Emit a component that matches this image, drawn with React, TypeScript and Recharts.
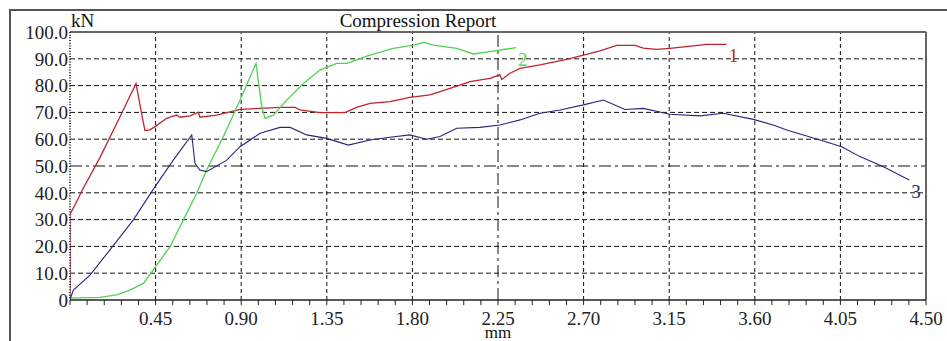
import { LineChart, Line, XAxis, YAxis, ReferenceLine, LabelList } from "recharts";

// displacement (mm) vs load (kN)
const curve1 = [
  { x: 0, y: 0 }, { x: 0, y: 32 }, { x: 0.03, y: 36 }, { x: 0.06, y: 40.4 }, { x: 0.16, y: 53.5 },
  { x: 0.25, y: 66.5 }, { x: 0.347, y: 80.8 }, { x: 0.37, y: 72 }, { x: 0.394, y: 63.2 }, { x: 0.42, y: 63.5 },
  { x: 0.447, y: 64.7 }, { x: 0.508, y: 67.8 }, { x: 0.534, y: 68.4 }, { x: 0.561, y: 69 }, { x: 0.578, y: 68.2 },
  { x: 0.631, y: 68.7 }, { x: 0.675, y: 70.1 }, { x: 0.683, y: 68.2 }, { x: 0.771, y: 69 }, { x: 0.894, y: 71.1 },
  { x: 0.999, y: 71.5 }, { x: 1.104, y: 71.9 }, { x: 1.183, y: 71.9 }, { x: 1.209, y: 70.9 }, { x: 1.314, y: 69.9 },
  { x: 1.446, y: 69.9 }, { x: 1.507, y: 71.9 }, { x: 1.577, y: 73.4 }, { x: 1.682, y: 74 }, { x: 1.787, y: 75.6 },
  { x: 1.893, y: 76.5 }, { x: 1.998, y: 79 }, { x: 2.103, y: 81.5 }, { x: 2.208, y: 82.7 }, { x: 2.26, y: 84 },
  { x: 2.27, y: 82.3 }, { x: 2.313, y: 84.6 }, { x: 2.366, y: 86.4 }, { x: 2.471, y: 87.7 }, { x: 2.611, y: 89.8 },
  { x: 2.699, y: 91.4 }, { x: 2.786, y: 93 }, { x: 2.874, y: 95 }, { x: 2.97, y: 95 }, { x: 3.014, y: 94 },
  { x: 3.084, y: 93.5 }, { x: 3.154, y: 93.9 }, { x: 3.277, y: 94.8 }, { x: 3.347, y: 95.4 }, { x: 3.452, y: 95.4 },
];

const curve2 = [
  { x: 0, y: 0.7 }, { x: 0.158, y: 1 }, { x: 0.25, y: 2 }, { x: 0.315, y: 3.7 }, { x: 0.386, y: 6.2 },
  { x: 0.447, y: 12.2 }, { x: 0.526, y: 19.9 }, { x: 0.596, y: 29.9 }, { x: 0.666, y: 39.8 }, { x: 0.718, y: 48.5 },
  { x: 0.806, y: 60.9 }, { x: 0.894, y: 74.6 }, { x: 0.978, y: 88.3 }, { x: 1.008, y: 72.1 }, { x: 1.025, y: 67.8 },
  { x: 1.069, y: 69 }, { x: 1.139, y: 74.6 }, { x: 1.227, y: 80.8 }, { x: 1.314, y: 85.8 }, { x: 1.402, y: 88.3 },
  { x: 1.455, y: 88.3 }, { x: 1.577, y: 91.4 }, { x: 1.7, y: 93.9 }, { x: 1.805, y: 95.1 }, { x: 1.861, y: 96.1 },
  { x: 1.91, y: 95.1 }, { x: 2.033, y: 93.9 }, { x: 2.12, y: 91.8 }, { x: 2.208, y: 92.7 }, { x: 2.345, y: 94.2 },
];

const curve3 = [
  { x: 0, y: 0 }, { x: 0.005, y: 1.2 }, { x: 0.018, y: 3.7 }, { x: 0.105, y: 9.3 }, { x: 0.21, y: 18.7 },
  { x: 0.333, y: 29.9 }, { x: 0.447, y: 42.3 }, { x: 0.543, y: 52.2 }, { x: 0.64, y: 61.6 }, { x: 0.657, y: 51 },
  { x: 0.683, y: 48.5 }, { x: 0.718, y: 47.9 }, { x: 0.824, y: 52.2 }, { x: 0.894, y: 57.2 }, { x: 0.999, y: 62.2 },
  { x: 1.104, y: 64.4 }, { x: 1.157, y: 64.4 }, { x: 1.244, y: 61.6 }, { x: 1.349, y: 60.3 }, { x: 1.463, y: 57.8 },
  { x: 1.577, y: 59.7 }, { x: 1.682, y: 60.7 }, { x: 1.787, y: 61.6 }, { x: 1.875, y: 60 }, { x: 1.945, y: 61 },
  { x: 2.033, y: 64.1 }, { x: 2.155, y: 64.4 }, { x: 2.26, y: 65.3 }, { x: 2.366, y: 67.2 }, { x: 2.471, y: 69.7 },
  { x: 2.576, y: 70.9 }, { x: 2.699, y: 72.8 }, { x: 2.804, y: 74.6 }, { x: 2.918, y: 71.1 }, { x: 3.014, y: 71.5 },
  { x: 3.154, y: 69.3 }, { x: 3.312, y: 68.7 }, { x: 3.434, y: 69.7 }, { x: 3.592, y: 67.4 }, { x: 3.697, y: 65.3 },
  { x: 3.768, y: 63.4 }, { x: 3.943, y: 59.7 }, { x: 4.057, y: 57.2 }, { x: 4.153, y: 53.5 }, { x: 4.276, y: 49.7 },
  { x: 4.412, y: 44.8 },
];

const xTicks = [0.45, 0.9, 1.35, 1.8, 2.25, 2.7, 3.15, 3.6, 4.05, 4.5];
const yTicks = [0, 10, 20, 30, 40, 50, 60, 70, 80, 90, 100];
const curveNames = ["1", "2", "3"];

const FONT = "'Liberation Serif', 'Times New Roman', serif";
const RED = "#bd2430";
const GREEN = "#4fd24f";
const BLUE = "#25257e";

// 5 minor divisions between labelled ticks
const minorTicks = [0, ...xTicks.flatMap((t) => [1, 2, 3, 4, 5].map((k) => +(t - 0.45 + k * 0.09).toFixed(2)))];

const XTick = ({ x, y, payload }: any) => {
  const major = xTicks.some((t) => Math.abs(t - payload.value) < 1e-6);
  if (!major) return null;
  return (
    <text x={x} y={y} dy="0.71em" textAnchor="middle" fontFamily={FONT} fontSize={19} fill="#222">
      {payload.value.toFixed(2)}
    </text>
  );
};

const endLabel = (name: string, color: string, last: number) => (props: any) => {
  if (props.index !== last) return null;
  return (
    <text x={props.x + 2} y={props.y + 18} fontFamily={FONT} fontSize={19} fill={color}>
      {name}
    </text>
  );
};

export default function App() {
  const series = [
    { data: curve1, color: RED, width: 1.3 },
    { data: curve2, color: GREEN, width: 1.3 },
    { data: curve3, color: BLUE, width: 1.1 },
  ];
  return (
    <div
      style={{
        position: "fixed",
        left: 0,
        top: 0,
        width: 947,
        height: 341,
        overflow: "hidden",
        background: "#fff",
      }}
    >
      {/* outer report frame, runs off the picture on the right and bottom */}
      <div
        style={{
          position: "absolute",
          left: 9,
          top: 9,
          width: 990,
          height: 400,
          border: "2px solid #555",
        }}
      />
      <div style={{ position: "absolute", left: 8, top: 8 }}>
        <LineChart width={939} height={333} margin={{ top: 24, right: 21, left: 0, bottom: 0 }}>
          <XAxis
            type="number"
            dataKey="x"
            domain={[0, 4.5]}
            ticks={minorTicks}
            interval={0}
            tick={<XTick />}
            tickSize={5}
            tickMargin={7}
            tickLine={{ stroke: "#222" }}
            axisLine={{ stroke: "#222", strokeWidth: 1.5 }}
            height={41}
            allowDataOverflow
          />
          <YAxis
            type="number"
            domain={[0, 100]}
            ticks={yTicks}
            interval={0}
            width={62}
            tickLine={false}
            tickSize={0}
            tickMargin={2}
            axisLine={{ stroke: "#333", strokeWidth: 2, strokeDasharray: "1 1.68" }}
            tickFormatter={(v: number) => (v === 0 ? "0" : v.toFixed(1))}
            tick={{ fontFamily: FONT, fontSize: 19, fill: "#222" }}
          />
          {yTicks
            .filter((v) => v > 0 && v < 100)
            .map((v) => (
              <ReferenceLine
                key={"h" + v}
                y={v}
                stroke="#111"
                strokeDasharray={v === 50 ? "12 4 3 4" : "5 3"}
              />
            ))}
          {xTicks
            .filter((v) => v < 4.5)
            .map((v) => (
              <ReferenceLine
                key={"v" + v}
                x={v}
                stroke="#111"
                strokeDasharray={v === 2.25 ? "12 4 3 4" : "4 3"}
              />
            ))}
          <ReferenceLine y={100} stroke="#666" strokeWidth={2} />
          <ReferenceLine x={4.5} stroke="#666" strokeWidth={2} />
          {series.map((s, i) => (
            <Line
              key={i}
              data={s.data}
              dataKey="y"
              type="linear"
              stroke={s.color}
              strokeWidth={s.width}
              dot={false}
              isAnimationActive={false}
            >
              <LabelList dataKey="y" content={endLabel(curveNames[i], s.color, s.data.length - 1)} />
            </Line>
          ))}
        </LineChart>
      </div>
      <svg width={947} height={341} style={{ position: "absolute", left: 0, top: 0, pointerEvents: "none" }}>
        <text x={418} y={27} textAnchor="middle" fontFamily={FONT} fontSize={19} fill="#111">
          Compression Report
        </text>
        <text x={71} y={26.5} fontFamily={FONT} fontSize={19} fill="#111">
          kN
        </text>
        <text x={498} y={338} textAnchor="middle" fontFamily={FONT} fontSize={17} fill="#111">
          mm
        </text>
      </svg>
    </div>
  );
}
